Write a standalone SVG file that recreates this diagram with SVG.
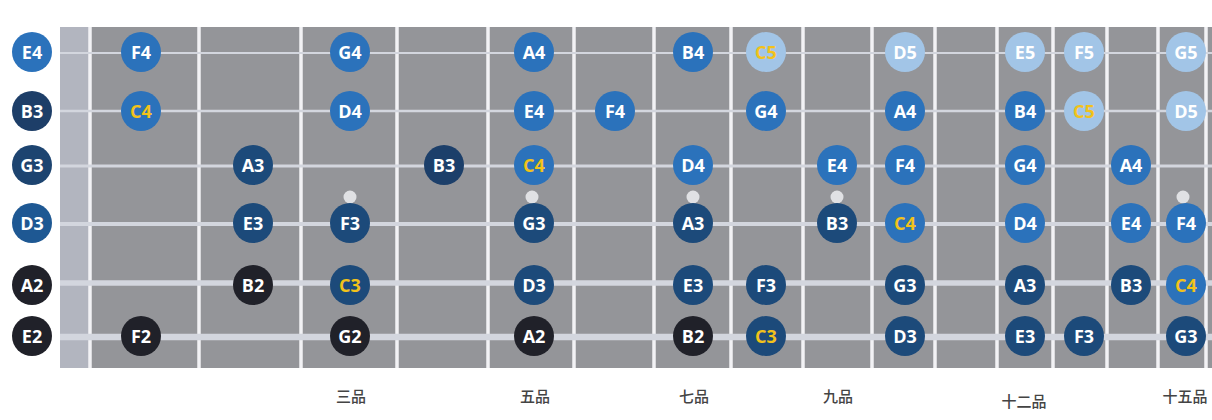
<svg xmlns="http://www.w3.org/2000/svg" width="1212" height="420" viewBox="0 0 1212 420">
<style>
.fret{stroke:#f2f2f5;stroke-width:3.5}
.str{stroke:#d3d6de}
.n text{font-family:"Open Sans","Liberation Sans",sans-serif;font-weight:700;font-size:18px;fill:#fff;text-anchor:middle;dominant-baseline:central}
.n text.c{fill:#f2c21a}
.o2{fill:#202129}
.o3{fill:#1c4a7a}
.o4{fill:#2b72bb}
.o5{fill:#a2c5e7}
.dot{fill:#e0e1e4}
.lbl{font-family:"Noto Sans CJK SC","Noto Sans",sans-serif;font-size:15px;font-weight:500;fill:#444;text-anchor:middle}
</style>
<rect width="1212" height="420" fill="#fff"/>
<g id="board">
<rect x="60" y="27" width="1152" height="341" fill="#949599"/>
<rect x="60" y="27" width="29" height="341" fill="#b2b5bf"/>
</g>
<g id="frets">
<line class="fret" x1="90" y1="27" x2="90" y2="368"/>
<line class="fret" x1="199" y1="27" x2="199" y2="368"/>
<line class="fret" x1="301" y1="27" x2="301" y2="368"/>
<line class="fret" x1="397" y1="27" x2="397" y2="368"/>
<line class="fret" x1="488" y1="27" x2="488" y2="368"/>
<line class="fret" x1="574" y1="27" x2="574" y2="368"/>
<line class="fret" x1="654" y1="27" x2="654" y2="368"/>
<line class="fret" x1="731" y1="27" x2="731" y2="368"/>
<line class="fret" x1="803" y1="27" x2="803" y2="368"/>
<line class="fret" x1="872" y1="27" x2="872" y2="368"/>
<line class="fret" x1="935" y1="27" x2="935" y2="368"/>
<line class="fret" x1="997" y1="27" x2="997" y2="368"/>
<line class="fret" x1="1053" y1="27" x2="1053" y2="368"/>
<line class="fret" x1="1107" y1="27" x2="1107" y2="368"/>
<line class="fret" x1="1158" y1="27" x2="1158" y2="368"/>
<line class="fret" x1="1206" y1="27" x2="1206" y2="368"/>
</g>
<g id="strings">
<line class="str" x1="60" y1="53" x2="1212" y2="53" stroke-width="2"/>
<line class="str" x1="60" y1="111" x2="1212" y2="111" stroke-width="2.5"/>
<line class="str" x1="60" y1="166" x2="1212" y2="166" stroke-width="3"/>
<line class="str" x1="60" y1="224" x2="1212" y2="224" stroke-width="4"/>
<line class="str" x1="60" y1="283" x2="1212" y2="283" stroke-width="5.5"/>
<line class="str" x1="60" y1="337" x2="1212" y2="337" stroke-width="6.5"/>
</g>
<g id="inlays">
<circle class="dot" cx="350" cy="197" r="6.5"/>
<circle class="dot" cx="532" cy="197" r="6.5"/>
<circle class="dot" cx="693" cy="197" r="6.5"/>
<circle class="dot" cx="837" cy="197" r="6.5"/>
<circle class="dot" cx="1183" cy="197" r="6.5"/>
</g>
<g id="open-strings" class="n">
<g id="open-E4"><circle class="o4" cx="32" cy="52" r="20"/><text x="32" y="52">E4</text></g>
<g id="open-B3"><circle cx="32" cy="111" r="20" fill="#1d3e68"/><text x="32" y="111">B3</text></g>
<g id="open-G3"><circle cx="32" cy="165" r="20" fill="#1d4470"/><text x="32" y="165">G3</text></g>
<g id="open-D3"><circle cx="32" cy="223" r="20" fill="#1e5893"/><text x="32" y="223">D3</text></g>
<g id="open-A2"><circle class="o2" cx="32" cy="285" r="20"/><text x="32" y="285">A2</text></g>
<g id="open-E2"><circle class="o2" cx="32" cy="336" r="20"/><text x="32" y="336">E2</text></g>
</g>
<g id="string1" class="n">
<g id="s1-F4"><circle class="o4" cx="141" cy="52" r="20"/><text x="141" y="52">F4</text></g>
<g id="s1-G4"><circle class="o4" cx="350" cy="52" r="20"/><text x="350" y="52">G4</text></g>
<g id="s1-A4"><circle class="o4" cx="534" cy="52" r="20"/><text x="534" y="52">A4</text></g>
<g id="s1-B4"><circle class="o4" cx="693" cy="52" r="20"/><text x="693" y="52">B4</text></g>
<g id="s1-C5"><circle class="o5" cx="766" cy="52" r="20"/><text class="c" x="766" y="52">C5</text></g>
<g id="s1-D5"><circle class="o5" cx="905" cy="52" r="20"/><text x="905" y="52">D5</text></g>
<g id="s1-E5"><circle class="o5" cx="1025" cy="52" r="20"/><text x="1025" y="52">E5</text></g>
<g id="s1-F5"><circle class="o5" cx="1084" cy="52" r="20"/><text x="1084" y="52">F5</text></g>
<g id="s1-G5"><circle class="o5" cx="1186" cy="52" r="20"/><text x="1186" y="52">G5</text></g>
</g>
<g id="string2" class="n">
<g id="s2-C4"><circle class="o4" cx="141" cy="111" r="20"/><text class="c" x="141" y="111">C4</text></g>
<g id="s2-D4"><circle class="o4" cx="350" cy="111" r="20"/><text x="350" y="111">D4</text></g>
<g id="s2-E4"><circle class="o4" cx="534" cy="111" r="20"/><text x="534" y="111">E4</text></g>
<g id="s2-F4"><circle class="o4" cx="615" cy="111" r="20"/><text x="615" y="111">F4</text></g>
<g id="s2-G4"><circle class="o4" cx="766" cy="111" r="20"/><text x="766" y="111">G4</text></g>
<g id="s2-A4"><circle class="o4" cx="905" cy="111" r="20"/><text x="905" y="111">A4</text></g>
<g id="s2-B4"><circle class="o4" cx="1025" cy="111" r="20"/><text x="1025" y="111">B4</text></g>
<g id="s2-C5"><circle class="o5" cx="1084" cy="111" r="20"/><text class="c" x="1084" y="111">C5</text></g>
<g id="s2-D5"><circle class="o5" cx="1186" cy="111" r="20"/><text x="1186" y="111">D5</text></g>
</g>
<g id="string3" class="n">
<g id="s3-A3"><circle class="o3" cx="253" cy="165" r="20"/><text x="253" y="165">A3</text></g>
<g id="s3-B3"><circle cx="444" cy="165" r="20" fill="#1c3f6a"/><text x="444" y="165">B3</text></g>
<g id="s3-C4"><circle class="o4" cx="534" cy="165" r="20"/><text class="c" x="534" y="165">C4</text></g>
<g id="s3-D4"><circle class="o4" cx="693" cy="165" r="20"/><text x="693" y="165">D4</text></g>
<g id="s3-E4"><circle class="o4" cx="837" cy="165" r="20"/><text x="837" y="165">E4</text></g>
<g id="s3-F4"><circle class="o4" cx="905" cy="165" r="20"/><text x="905" y="165">F4</text></g>
<g id="s3-G4"><circle class="o4" cx="1025" cy="165" r="20"/><text x="1025" y="165">G4</text></g>
<g id="s3-A4"><circle class="o4" cx="1131" cy="165" r="20"/><text x="1131" y="165">A4</text></g>
</g>
<g id="string4" class="n">
<g id="s4-E3"><circle class="o3" cx="253" cy="223" r="20"/><text x="253" y="223">E3</text></g>
<g id="s4-F3"><circle class="o3" cx="350" cy="223" r="20"/><text x="350" y="223">F3</text></g>
<g id="s4-G3"><circle class="o3" cx="534" cy="223" r="20"/><text x="534" y="223">G3</text></g>
<g id="s4-A3"><circle class="o3" cx="693" cy="223" r="20"/><text x="693" y="223">A3</text></g>
<g id="s4-B3"><circle class="o3" cx="837" cy="223" r="20"/><text x="837" y="223">B3</text></g>
<g id="s4-C4"><circle class="o4" cx="905" cy="223" r="20"/><text class="c" x="905" y="223">C4</text></g>
<g id="s4-D4"><circle class="o4" cx="1025" cy="223" r="20"/><text x="1025" y="223">D4</text></g>
<g id="s4-E4"><circle class="o4" cx="1131" cy="223" r="20"/><text x="1131" y="223">E4</text></g>
<g id="s4-F4"><circle class="o4" cx="1186" cy="223" r="20"/><text x="1186" y="223">F4</text></g>
</g>
<g id="string5" class="n">
<g id="s5-B2"><circle class="o2" cx="253" cy="285" r="20"/><text x="253" y="285">B2</text></g>
<g id="s5-C3"><circle class="o3" cx="350" cy="285" r="20"/><text class="c" x="350" y="285">C3</text></g>
<g id="s5-D3"><circle class="o3" cx="534" cy="285" r="20"/><text x="534" y="285">D3</text></g>
<g id="s5-E3"><circle class="o3" cx="693" cy="285" r="20"/><text x="693" y="285">E3</text></g>
<g id="s5-F3"><circle class="o3" cx="766" cy="285" r="20"/><text x="766" y="285">F3</text></g>
<g id="s5-G3"><circle class="o3" cx="905" cy="285" r="20"/><text x="905" y="285">G3</text></g>
<g id="s5-A3"><circle class="o3" cx="1025" cy="285" r="20"/><text x="1025" y="285">A3</text></g>
<g id="s5-B3"><circle class="o3" cx="1131" cy="285" r="20"/><text x="1131" y="285">B3</text></g>
<g id="s5-C4"><circle class="o4" cx="1186" cy="285" r="20"/><text class="c" x="1186" y="285">C4</text></g>
</g>
<g id="string6" class="n">
<g id="s6-F2"><circle class="o2" cx="141" cy="336" r="20"/><text x="141" y="336">F2</text></g>
<g id="s6-G2"><circle class="o2" cx="350" cy="336" r="20"/><text x="350" y="336">G2</text></g>
<g id="s6-A2"><circle class="o2" cx="534" cy="336" r="20"/><text x="534" y="336">A2</text></g>
<g id="s6-B2"><circle class="o2" cx="693" cy="336" r="20"/><text x="693" y="336">B2</text></g>
<g id="s6-C3"><circle class="o3" cx="766" cy="336" r="20"/><text class="c" x="766" y="336">C3</text></g>
<g id="s6-D3"><circle class="o3" cx="905" cy="336" r="20"/><text x="905" y="336">D3</text></g>
<g id="s6-E3"><circle class="o3" cx="1025" cy="336" r="20"/><text x="1025" y="336">E3</text></g>
<g id="s6-F3"><circle class="o3" cx="1084" cy="336" r="20"/><text x="1084" y="336">F3</text></g>
<g id="s6-G3"><circle class="o3" cx="1186" cy="336" r="20"/><text x="1186" y="336">G3</text></g>
</g>
<g id="fret-labels">
<text class="lbl" x="351" y="402">三品</text>
<text class="lbl" x="535" y="402">五品</text>
<text class="lbl" x="694" y="402">七品</text>
<text class="lbl" x="838" y="402">九品</text>
<text class="lbl" x="1024" y="407">十二品</text>
<text class="lbl" x="1185" y="402">十五品</text>
</g>
</svg>
